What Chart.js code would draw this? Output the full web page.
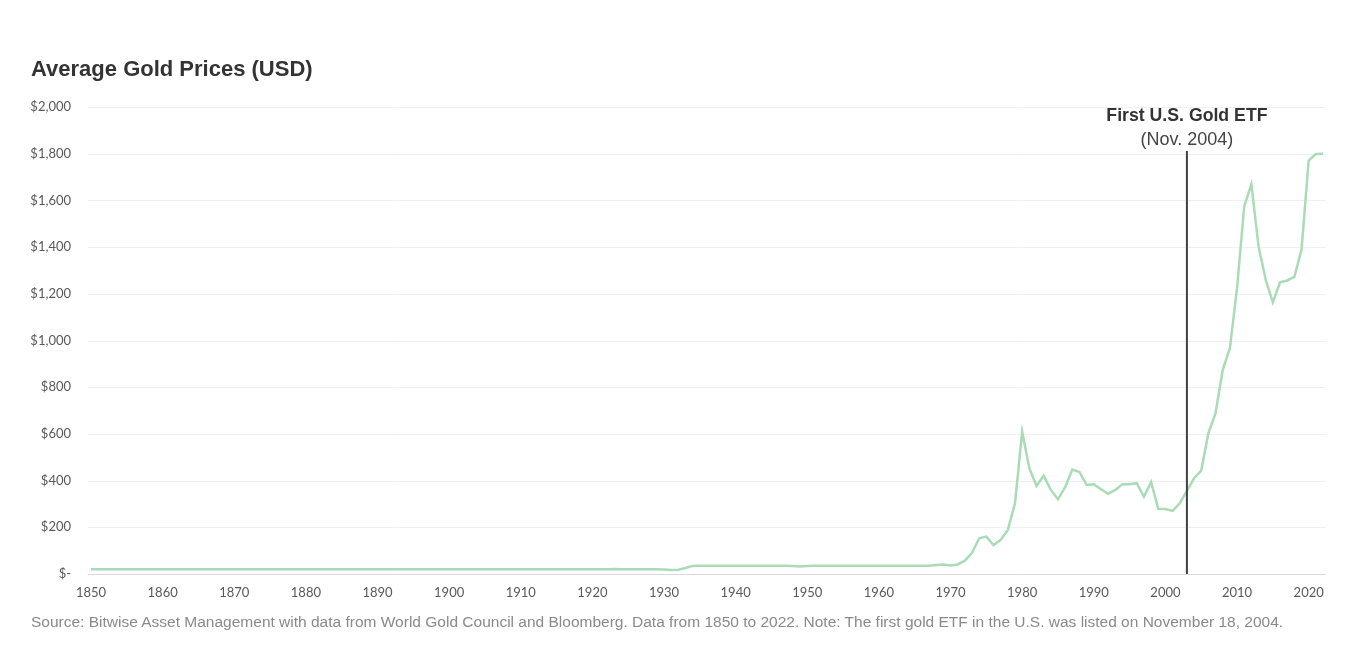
<!DOCTYPE html>
<html>
<head>
<meta charset="utf-8">
<script src="https://cdn.jsdelivr.net/npm/chart.js@4.4.1/dist/chart.umd.min.js"></script>
<style>
html, body { margin: 0; padding: 0; background: #fff; }
#wrap { position: relative; width: 1371px; height: 666px; }
#chart { position: absolute; left: 0; top: 0; }
.title {
    position: absolute; left: 31px; top: 58px;
    font: bold 22px "Liberation Sans", Arial, sans-serif;
    line-height: 22px; color: #333; white-space: nowrap;
}
.source {
    position: absolute; left: 31px; top: 614px;
    font: 15.5px "Liberation Sans", Arial, sans-serif;
    line-height: 15px; color: #8a8a8a; white-space: nowrap;
}
</style>
</head>
<body>
<div id="wrap">
    <canvas id="chart" width="1371" height="666"></canvas>
    <div class="title">Average Gold Prices (USD)</div>
    <div class="source">Source: Bitwise Asset Management with data from World Gold Council and Bloomberg. Data from 1850 to 2022. Note: The first gold ETF in the U.S. was listed on November 18, 2004.</div>
</div>
<script>
const startYear = 1850;

// average gold price per year, 1850 - 2022 (USD / oz)
const prices = [
    20.67, 20.67, 20.67, 20.67, 20.67, 20.67, 20.67, 20.67, 20.67, 20.67,
    20.67, 20.67, 20.67, 20.67, 20.67, 20.67, 20.67, 20.67, 20.67, 20.67,
    20.67, 20.67, 20.67, 20.67, 20.67, 20.67, 20.67, 20.67, 20.67, 20.67,
    20.67, 20.67, 20.67, 20.67, 20.67, 20.67, 20.67, 20.67, 20.67, 20.67,
    20.67, 20.67, 20.67, 20.67, 20.67, 20.67, 20.67, 20.67, 20.67, 20.67,
    20.67, 20.67, 20.67, 20.67, 20.67, 20.67, 20.67, 20.67, 20.67, 20.67,
    20.67, 20.67, 20.67, 20.67, 20.67, 20.67, 20.67, 20.67, 20.67, 20.67,
    20.67, 20.67, 20.67, 21.5, 20.67, 20.67, 20.67, 20.67, 20.67, 20.67,
    19.5, 17.5, 18.5, 26, 34.7, 35, 35, 35, 35, 35,
    35, 35, 35, 35, 35, 35, 35, 35, 34.7, 31.7,
    34.7, 35, 35, 35, 35, 35, 35, 35, 35, 35,
    35, 35, 35, 35, 35, 35, 35, 35, 39, 41,
    36, 41, 57, 91, 153, 160, 124, 146, 189, 303,
    610, 453, 377, 421, 360, 320, 372, 447, 437, 381,
    384, 363, 343, 360, 384, 384, 389, 331, 394, 279,
    278, 270, 303, 356, 410, 443, 603, 689, 874, 967,
    1225, 1574, 1670, 1403, 1260, 1163, 1249, 1257, 1272, 1389,
    1771, 1799, 1800
];

const years = prices.map((p, i) => String(startYear + i));

const yTicks = [0, 200, 400, 600, 800, 1000, 1200, 1400, 1600, 1800, 2000];

const etfYear = '2003';
const etfLabel = 'First U.S. Gold ETF';
const etfNote = '(Nov. 2004)';

const tickFont = { family: 'Lato, "Open Sans", sans-serif', size: 13 };

// vertical marker for the first ETF listing
const etfMarker = {
    id: 'etfMarker',
    afterDatasetsDraw(chart) {
        const ctx = chart.ctx;
        const area = chart.chartArea;
        const x = chart.scales.x.getPixelForValue(years.indexOf(etfYear));
        ctx.save();
        ctx.strokeStyle = '#404040';
        ctx.lineWidth = 2;
        ctx.beginPath();
        ctx.moveTo(x, area.top + 44);
        ctx.lineTo(x, area.bottom);
        ctx.stroke();
        ctx.textAlign = 'center';
        ctx.textBaseline = 'alphabetic';
        ctx.fillStyle = '#333';
        ctx.font = 'bold 17.7px "Liberation Sans", Arial, sans-serif';
        ctx.fillText(etfLabel, x, area.top + 14);
        ctx.fillStyle = '#444';
        ctx.font = '18px "Liberation Sans", Arial, sans-serif';
        ctx.fillText(etfNote, x, area.top + 38);
        ctx.restore();
    }
};

// light grid lines reach a few pixels past the plotted data
const wideGrid = {
    id: 'wideGrid',
    beforeDatasetsDraw(chart) {
        const ctx = chart.ctx;
        const area = chart.chartArea;
        const y = chart.scales.y;
        ctx.save();
        ctx.lineWidth = 1;
        yTicks.forEach(v => {
            const py = Math.round(y.getPixelForValue(v)) + 0.5;
            ctx.strokeStyle = v === 0 ? '#d9d9d9' : '#f0f0f0';
            ctx.beginPath();
            ctx.moveTo(area.left - 3, py);
            ctx.lineTo(area.right + 3, py);
            ctx.stroke();
        });
        ctx.restore();
    }
};

new Chart(document.getElementById('chart'), {
    type: 'line',
    data: {
        labels: years,
        datasets: [{
            label: 'Average Gold Price',
            data: prices,
            borderColor: '#a9dcb6',
            borderWidth: 2.5,
            pointRadius: 0,
            tension: 0,
            fill: false
        }]
    },
    options: {
        responsive: false,
        animation: false,
        layout: {
            padding: { left: 31, right: 48, top: 107, bottom: 52 }
        },
        plugins: {
            legend: { display: false },
            tooltip: { enabled: false }
        },
        scales: {
            x: {
                type: 'category',
                grid: { display: false, drawTicks: false },
                border: { display: false },
                afterFit: s => { s.height = 40; },
                ticks: {
                    autoSkip: false,
                    maxRotation: 0,
                    minRotation: 0,
                    padding: 11,
                    color: '#595959',
                    font: tickFont,
                    callback: (v, i) => (Number(years[i]) % 10 === 0 ? years[i] : '')
                }
            },
            y: {
                min: 0,
                max: 2000,
                afterFit: s => { s.width = 60; },
                afterBuildTicks: s => { s.ticks = yTicks.map(v => ({ value: v })); },
                grid: { display: false, drawTicks: false },
                border: { display: false },
                ticks: {
                    padding: 20,
                    color: '#595959',
                    font: tickFont,
                    callback: v => (v === 0 ? '$-' : '$' + v.toLocaleString('en-US'))
                }
            }
        }
    },
    plugins: [wideGrid, etfMarker]
});
</script>
</body>
</html>
